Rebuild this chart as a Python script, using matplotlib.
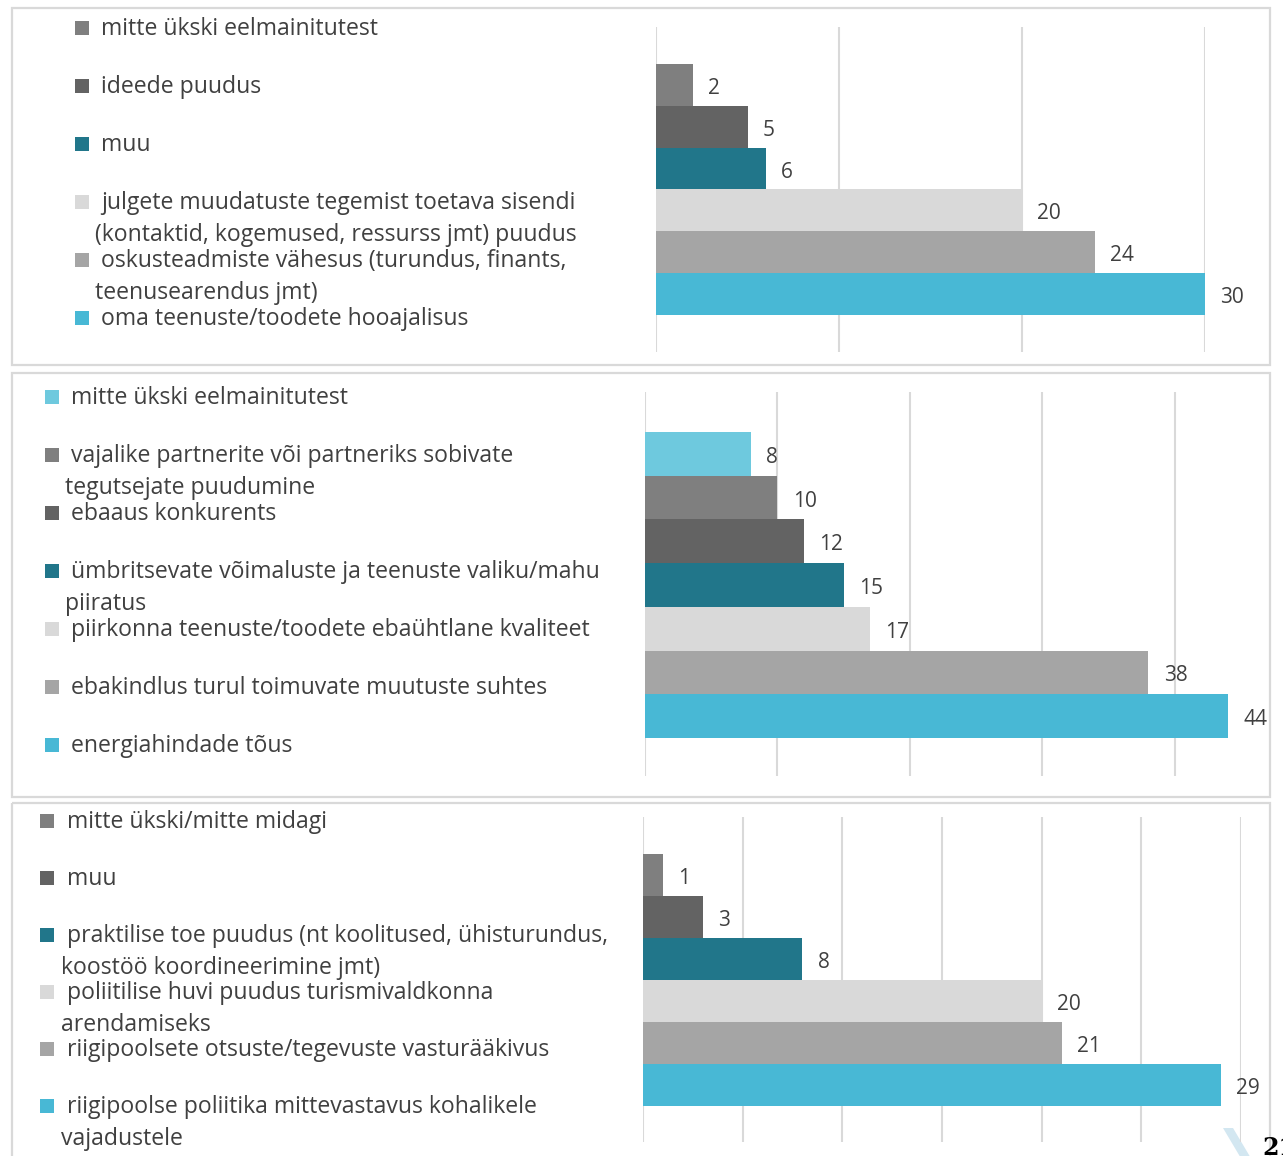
import matplotlib
matplotlib.use("Agg")
import matplotlib.pyplot as plt
from matplotlib.patches import Rectangle, Polygon

plt.rcParams['font.family'] = ['Open Sans', 'DejaVu Sans']

# colours used in the source report
c_mid = "#7F7F7F"
c_dark = "#636363"
c_teal = "#21768A"
c_light = "#D9D9D9"
c_grey = "#A5A5A5"
c_cyan = "#48B8D5"
c_pale = "#6EC9DE"

# --- panel 1
p1_labels = ["mitte ükski eelmainitutest", "ideede puudus", "muu",
             "julgete muudatuste tegemist toetava sisendi\n(kontaktid, kogemused, ressurss jmt) puudus",
             "oskusteadmiste vähesus (turundus, finants,\nteenusearendus jmt)",
             "oma teenuste/toodete hooajalisus"]
p1_values = [2, 5, 6, 20, 24, 30]
p1_colors = [c_mid, c_dark, c_teal, c_light, c_grey, c_cyan]

# --- panel 2
p2_labels = ["mitte ükski eelmainitutest",
             "vajalike partnerite või partneriks sobivate\ntegutsejate puudumine",
             "ebaaus konkurents",
             "ümbritsevate võimaluste ja teenuste valiku/mahu\npiiratus",
             "piirkonna teenuste/toodete ebaühtlane kvaliteet",
             "ebakindlus turul toimuvate muutuste suhtes",
             "energiahindade tõus"]
p2_values = [8, 10, 12, 15, 17, 38, 44]
p2_colors = [c_pale, c_mid, c_dark, c_teal, c_light, c_grey, c_cyan]

# --- panel 3
p3_labels = ["mitte ükski/mitte midagi", "muu",
             "praktilise toe puudus (nt koolitused, ühisturundus,\nkoostöö koordineerimine jmt)",
             "poliitilise huvi puudus turismivaldkonna\narendamiseks",
             "riigipoolsete otsuste/tegevuste vasturääkivus",
             "riigipoolse poliitika mittevastavus kohalikele\nvajadustele"]
p3_values = [1, 3, 8, 20, 21, 29]
p3_colors = [c_mid, c_dark, c_teal, c_light, c_grey, c_cyan]

W, H = 1283, 1156
fig = plt.figure(figsize=(W / 100, H / 100), dpi=100)

# overlay in pixel coordinates for frames and legends
ov = fig.add_axes([0, 0, 1, 1], zorder=0)
ov.set_xlim(0, W)
ov.set_ylim(H, 0)
ov.axis("off")

txt_col = "#404040"
border = "#D9D9D9"
for (y0, y1) in [(8, 365), (373, 797), (803, 1170)]:
    ov.add_patch(Rectangle((12, y0), 1258, y1 - y0, fill=False, ec=border, lw=1.6, clip_on=False))


def panel(labels, values, colors, box, bars, xmax, step, legend):
    x0, x1, y0, y1 = box
    bt, bb = bars
    n = len(values)
    unit = (bb - bt) / n
    ax = fig.add_axes([x0 / W, 1 - y1 / H, (x1 - x0) / W, (y1 - y0) / H], zorder=2)
    ax.patch.set_alpha(0)
    ax.barh(range(n), values, height=1.0, color=colors, zorder=3)
    ax.set_xlim(0, xmax)
    ax.set_ylim(n - 0.5 + (y1 - bb) / unit, -0.5 - (bt - y0) / unit)
    ax.set_xticks(range(0, int(xmax) + 1, step))
    ax.grid(axis="x", color=border, lw=1.5, zorder=0)
    ax.tick_params(length=0, labelbottom=False, labelleft=False)
    for s in ax.spines.values():
        s.set_visible(False)
    for i, v in enumerate(values):
        ax.annotate(str(v), (v, i), xytext=(11, -2.5), textcoords="offset points",
                    va="center", ha="left", fontsize=15, color=txt_col)
    sq_x, tx, wx, ly, lstep = legend
    for i, (lab, col) in enumerate(zip(labels, colors)):
        y = ly + i * lstep
        ov.add_patch(Rectangle((sq_x, y - 7), 14, 14, color=col, lw=0))
        lines = lab.split("\n")
        ov.text(tx, y + 1, lines[0], va="center", ha="left", fontsize=16.6, color=txt_col)
        for j, extra in enumerate(lines[1:]):
            ov.text(wx, y + 1 + 32 * (j + 1), extra, va="center", ha="left", fontsize=16.6, color=txt_col)


panel(p1_labels, p1_values, p1_colors, (656, 1205, 27, 352), (64, 315), 30, 10, (75, 101, 95, 28, 58))
panel(p2_labels, p2_values, p2_colors, (645, 1241, 392, 776), (432, 738), 45, 10, (45, 71, 65, 397, 58))
panel(p3_labels, p3_values, p3_colors, (643, 1241, 817, 1142), (854, 1106), 30, 5, (40, 67, 61, 821, 57))

# page decoration in the corner
ov.add_patch(Polygon([[1223, 1128], [1233, 1128], [1252, 1160], [1242, 1160]],
                     closed=True, color="#D3E7F1", lw=0, clip_on=False))
ov.text(1262, 1148, "21", fontsize=17, fontweight="bold", color="black",
        family=["DejaVu Serif"], va="center", ha="left", clip_on=False)

fig.savefig("out.png", dpi=100)
